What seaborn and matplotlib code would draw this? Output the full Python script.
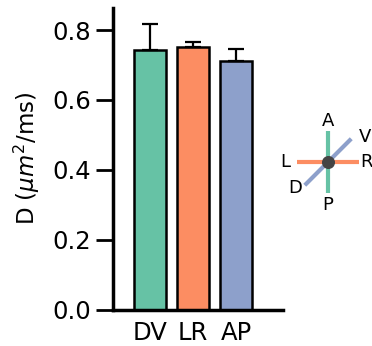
import numpy as np
import pandas as pd
import matplotlib
matplotlib.use("Agg")
import matplotlib.pyplot as plt
import seaborn as sns

# diffusion coefficient per axis
axes_names = ["DV", "LR", "AP"]
d_mean = [0.743, 0.751, 0.712]
d_err = [0.074, 0.014, 0.033]
bar_colors = ["#66c2a5", "#fc8d62", "#8da0cb"]

# compass schematic: positive label, negative label, direction, colour
compass_lines = [
    ("A", "P", (0, 1), "#66c2a5"),
    ("R", "L", (1, 0), "#fc8d62"),
    ("V", "D", (0.75, 0.75), "#8da0cb"),
]

sns.set_style("ticks", {"axes.edgecolor": "black", "xtick.color": "black",
                        "ytick.color": "black", "text.color": "black",
                        "axes.labelcolor": "black"})
plt.rcParams["font.family"] = ["DejaVu Sans"]

df = pd.DataFrame({"axis": axes_names, "D": d_mean})

fig = plt.figure(figsize=(3.72, 3.46), dpi=100)
ax = fig.add_axes([113 / 372, 36.5 / 346, 170 / 372, 301.5 / 346])

sns.barplot(data=df, x="axis", y="D", hue="axis", palette=bar_colors,
            saturation=1, width=0.75, edgecolor="black", linewidth=1.8,
            legend=False, ax=ax)
ax.errorbar(range(len(axes_names)), d_mean, yerr=[np.zeros(3), d_err],
            fmt="none", ecolor="black", elinewidth=1.6, capsize=6, capthick=1.6)

ax.set_xlim(-0.86, 3.09)
ax.set_ylim(0, 0.863)
ax.set_yticks([0.0, 0.2, 0.4, 0.6, 0.8])
ax.set_xlabel("")
ax.set_ylabel(r"D ($\mu m^2$/ms)", fontsize=16.5, labelpad=8)
ax.tick_params(axis="y", labelsize=17.5, length=12, width=2, pad=3.5)
ax.tick_params(axis="x", labelsize=17.5, length=0, pad=8)
sns.despine(ax=ax)
for s in ["left", "bottom"]:
    ax.spines[s].set_linewidth(2.5)

# orientation compass
cax = fig.add_axes([276 / 372, (346 - 222) / 346, 104 / 372, 120 / 346])
cax.set_xlim(-52, 52)
cax.set_ylim(-60, 60)
cax.axis("off")
r = 31
for pos, neg, (dx, dy), col in compass_lines:
    cax.plot([-dx * r, dx * r], [-dy * r, dy * r], color=col, lw=3,
             solid_capstyle="butt", zorder=1)
cax.scatter([0], [0], s=70, color="#444444", zorder=2)
label_pos = {"A": (0, 41), "P": (0, -43), "L": (-43, 0), "R": (39, 0),
             "V": (37, 25), "D": (-33, -26)}
for lab, (lx, ly) in label_pos.items():
    cax.text(lx, ly, lab, ha="center", va="center", fontsize=13)

fig.savefig("out.png", dpi=100)
